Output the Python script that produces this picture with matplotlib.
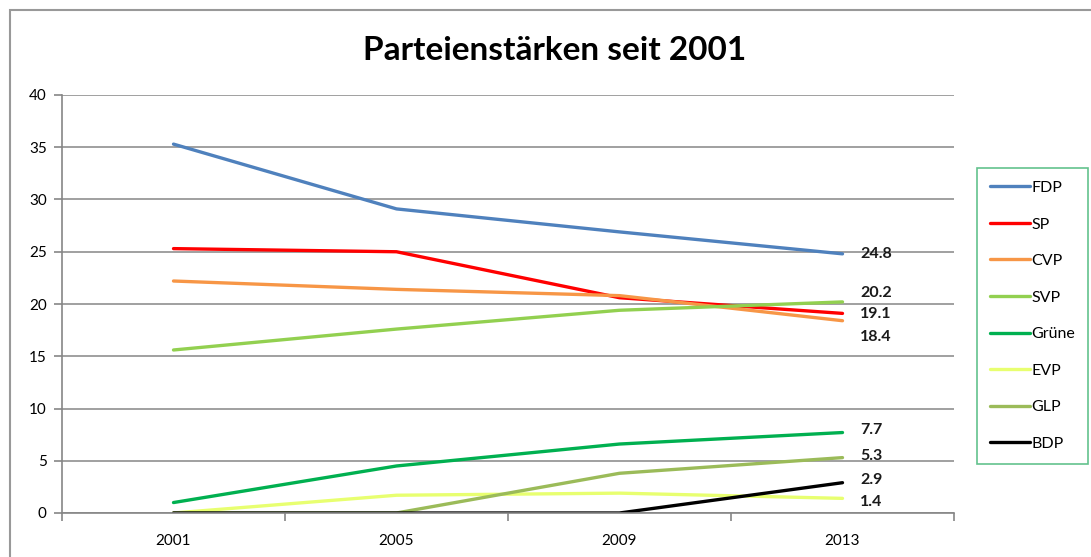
import matplotlib.pyplot as plt
from matplotlib.patches import Rectangle

plt.rcParams['font.family'] = ['Lato', 'DejaVu Sans']

years = ["2001", "2005", "2009", "2013"]
parties = ["FDP", "SP", "CVP", "SVP", "Grüne", "EVP", "GLP", "BDP"]
fdp = [35.3, 29.1, 26.9, 24.8]
sp = [25.3, 25.0, 20.6, 19.1]
cvp = [22.2, 21.4, 20.8, 18.4]
svp = [15.6, 17.6, 19.4, 20.2]
gruene = [1.0, 4.5, 6.6, 7.7]
evp = [0.0, 1.7, 1.9, 1.4]
glp = [0.0, 0.0, 3.8, 5.3]
bdp = [0.0, 0.0, 0.0, 2.9]
series = [fdp, sp, cvp, svp, gruene, evp, glp, bdp]

colors = ["#4F81BD", "#FF0000", "#F79646", "#92D050",
          "#00B050", "#E8FF70", "#9BBB59", "#000000"]
# vertical nudges for the end labels so they don't overlap
label_nudge = [0.0, -0.1, -1.6, 0.9, 0.2, -0.3, 0.2, 0.3]

fig = plt.figure(figsize=(10.91, 5.57), dpi=100)
ax = fig.add_axes([62 / 1091, 1 - 513 / 557, (954 - 62) / 1091, (513 - 95) / 557])

x = list(range(len(years)))
for name, vals, c in zip(parties, series, colors):
    ax.plot(x, vals, color=c, lw=2.4, label=name, solid_capstyle='round')

for vals, dy in zip(series, label_nudge):
    ax.text(3.08, vals[-1] + dy, f"{vals[-1]:.1f}", fontsize=11.5,
            fontweight='bold', va='center', ha='left', color='#1a1a1a')

ax.set_xlim(-0.5, 3.5)
ax.set_ylim(0, 40)
ax.set_yticks(range(0, 41, 5))
ax.set_xticks(x)
ax.set_xticklabels(years)
ax.set_xticks([-0.5, 0.5, 1.5, 2.5, 3.5], minor=True)
ax.tick_params(axis='x', which='major', length=0, pad=15, labelsize=11)
ax.tick_params(axis='x', which='minor', length=6, color='#868686', width=1.2)
ax.tick_params(axis='y', length=6, color='#868686', width=1.2, labelsize=11, pad=5)
ax.grid(axis='y', color='#868686', lw=1.1)
ax.set_axisbelow(True)
for s in ['top', 'right']:
    ax.spines[s].set_visible(False)
for s in ['left', 'bottom']:
    ax.spines[s].set_color('#868686')
    ax.spines[s].set_linewidth(1.2)

fig.text(555 / 1091, 1 - 50 / 557, "Parteienstärken seit 2001",
         fontsize=24, fontweight='bold', ha='center', va='center')

leg = fig.legend(loc='upper left', bbox_to_anchor=(977 / 1091, 1 - 168 / 557),
                 frameon=True, fancybox=False, fontsize=11.5,
                 handlelength=2.5, handletextpad=0.1, labelspacing=1.4,
                 borderpad=0.8, borderaxespad=0)
leg.get_frame().set_edgecolor('#3CB371')
leg.get_frame().set_linewidth(1.2)

fig.patches.append(Rectangle((10 / 1091, -0.1), 1.2, 1.1 - 10 / 557,
                             transform=fig.transFigure, fill=False,
                             edgecolor='#999999', lw=1.5))

fig.savefig("out.png", dpi=100)
